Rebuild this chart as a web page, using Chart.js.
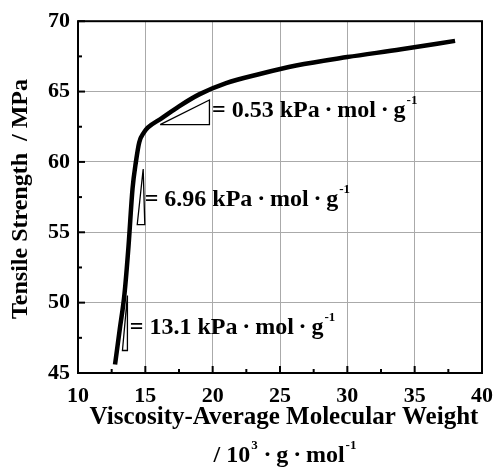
<!DOCTYPE html>
<html>
<head>
<meta charset="utf-8">
<script src="https://cdn.jsdelivr.net/npm/chart.js@4/dist/chart.umd.min.js"></script>
<style>
  html, body { margin: 0; padding: 0; background: #fff; }
  #wrap { width: 503px; height: 467px; }
</style>
</head>
<body>
<div id="wrap"><canvas id="grafico" width="503" height="467"></canvas></div>
<script>
// curva principal (Mv en 10^3 g/mol, resistencia en MPa)
const pesoMolecular = [12.75, 13.1, 13.45, 13.75, 14.05, 14.3, 14.55, 14.9, 15.2, 16.2, 17.5, 19.0, 21.0, 23.5, 26.2, 30.0, 34.0, 38.0];
const resistencia   = [45.6, 48.1, 50.6, 54.0, 58.1, 60.0, 61.4, 62.1, 62.45, 63.1, 63.95, 64.8, 65.6, 66.25, 66.85, 67.45, 68.0, 68.6];

// triangulos de pendiente
const tri1X = [16.1, 19.76, 19.76, 16.1];
const tri1Y = [62.65, 64.4, 62.65, 62.65];
const tri2X = [14.84, 14.4, 14.96, 14.84];
const tri2Y = [59.5, 55.55, 55.55, 59.5];
const tri3X = [13.67, 13.3, 13.67, 13.67];
const tri3Y = [50.5, 46.6, 46.6, 50.5];

// etiquetas de pendiente: [x, y, valor]
const etiquetas = [
  [19.95, 63.2, '0.53'],
  [14.95, 56.9, '6.96'],
  [13.85, 47.8, '13.1']
];

const ticksX = [10, 15, 20, 25, 30, 35, 40];
const ticksY = [45, 50, 55, 60, 65, 70];

const FUENTE = '"Liberation Serif", "Times New Roman", serif';
const PUNTO = '\u2009\u00b7\u2009';

function puntos(xs, ys) { return xs.map((x, i) => ({ x: x, y: ys[i] })); }

const marcoYTextos = {
  id: 'marcoYTextos',
  afterDatasetsDraw(chart) {
    const ctx = chart.ctx;
    const a = chart.chartArea;
    const sx = chart.scales.x, sy = chart.scales.y;
    ctx.save();
    // ticks hacia adentro
    ctx.strokeStyle = '#000';
    ctx.lineWidth = 2;
    for (let v = 10; v <= 40; v += 2.5) {
      const px = sx.getPixelForValue(v);
      const largo = (v % 5 === 0) ? 7 : 4;
      ctx.beginPath(); ctx.moveTo(px, a.bottom); ctx.lineTo(px, a.bottom - largo); ctx.stroke();
    }
    for (let v = 45; v <= 70; v += 2.5) {
      const py = sy.getPixelForValue(v);
      const largo = (v % 5 === 0) ? 7 : 4;
      ctx.beginPath(); ctx.moveTo(a.left, py); ctx.lineTo(a.left + largo, py); ctx.stroke();
    }
    // marco
    ctx.lineWidth = 2;
    ctx.strokeRect(a.left, a.top, a.right - a.left, a.bottom - a.top);

    // etiquetas de pendiente
    ctx.fillStyle = '#000';
    ctx.textBaseline = 'alphabetic';
    etiquetas.forEach(e => {
      let x = sx.getPixelForValue(e[0]);
      const y = sy.getPixelForValue(e[1]);
      ctx.font = 'bold 24px ' + FUENTE;
      const t = '= ' + e[2] + ' kPa' + PUNTO + 'mol' + PUNTO + 'g';
      ctx.fillText(t, x, y);
      x += ctx.measureText(t).width;
      ctx.font = 'bold 13px ' + FUENTE;
      ctx.fillText('-1', x + 1, y - 13);
    });

    // titulo eje x
    ctx.textAlign = 'center';
    ctx.textBaseline = 'middle';
    ctx.font = 'bold 25px ' + FUENTE;
    ctx.fillText('Viscosity-Average Molecular Weight', 284, 418);
    const p1 = '/ 10', p2 = PUNTO + 'g' + PUNTO + 'mol';
    ctx.font = 'bold 24px ' + FUENTE;
    const w1 = ctx.measureText(p1).width, w2 = ctx.measureText(p2).width;
    ctx.font = 'bold 13px ' + FUENTE;
    const ws = ctx.measureText('3').width, ws2 = ctx.measureText('-1').width;
    let x0 = 285 - (w1 + ws + 2 + w2 + ws2 + 1) / 2;
    ctx.textAlign = 'left';
    ctx.font = 'bold 24px ' + FUENTE;
    ctx.fillText(p1, x0, 456);
    ctx.font = 'bold 13px ' + FUENTE;
    ctx.fillText('3', x0 + w1 + 1, 446);
    ctx.font = 'bold 24px ' + FUENTE;
    ctx.fillText(p2, x0 + w1 + ws + 2, 456);
    ctx.font = 'bold 13px ' + FUENTE;
    ctx.fillText('-1', x0 + w1 + ws + 2 + w2 + 1, 446);

    // titulo eje y
    ctx.translate(21, 199);
    ctx.rotate(-Math.PI / 2);
    ctx.textAlign = 'center';
    ctx.font = 'bold 24px ' + FUENTE;
    ctx.fillText('Tensile Strength  / MPa', 0, 0);
    ctx.restore();
  }
};

new Chart(document.getElementById('grafico'), {
  type: 'scatter',
  data: {
    datasets: [
      { data: puntos(pesoMolecular, resistencia), showLine: true, borderColor: '#000', borderWidth: 4.5, pointRadius: 0, cubicInterpolationMode: 'monotone' },
      { data: puntos(tri1X, tri1Y), showLine: true, borderColor: '#000', borderWidth: 1.3, pointRadius: 0 },
      { data: puntos(tri2X, tri2Y), showLine: true, borderColor: '#000', borderWidth: 1.3, pointRadius: 0 },
      { data: puntos(tri3X, tri3Y), showLine: true, borderColor: '#000', borderWidth: 1.3, pointRadius: 0 }
    ]
  },
  options: {
    responsive: false,
    animation: false,
    layout: { padding: { top: 17, right: 14, left: 0, bottom: 0 } },
    plugins: { legend: { display: false }, tooltip: { enabled: false } },
    scales: {
      x: {
        type: 'linear', min: 10, max: 40,
        afterBuildTicks: s => { s.ticks = ticksX.map(v => ({ value: v })); },
        afterFit: s => { s.height = 94; },
        grid: { color: '#aaaaaa', lineWidth: 1, borderDash: [3, 3], drawTicks: false },
        border: { display: false },
        ticks: { color: '#000', padding: 10, font: { family: FUENTE, size: 22, weight: 'bold' }, maxRotation: 0 }
      },
      y: {
        type: 'linear', min: 45, max: 70,
        afterBuildTicks: s => { s.ticks = ticksY.map(v => ({ value: v })); },
        afterFit: s => { s.width = 78; },
        grid: { color: '#aaaaaa', lineWidth: 1, borderDash: [3, 3], drawTicks: false },
        border: { display: false },
        ticks: { color: '#000', padding: 8, font: { family: FUENTE, size: 22, weight: 'bold' } }
      }
    }
  },
  plugins: [marcoYTextos]
});
</script>
</body>
</html>
